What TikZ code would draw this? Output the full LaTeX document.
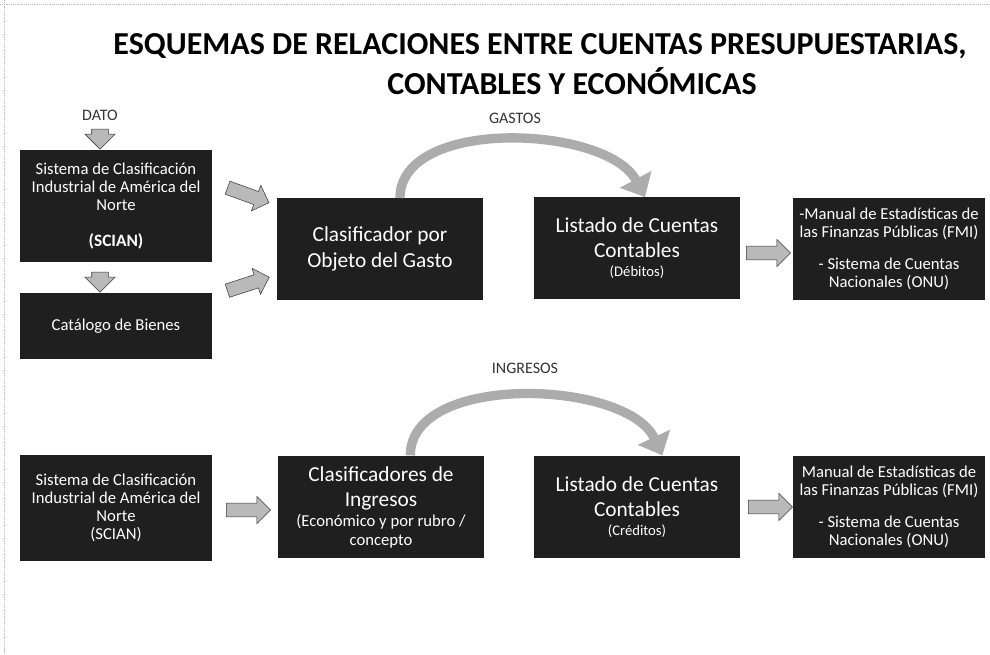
\documentclass[tikz,border=0pt]{standalone}
\usepackage{fontspec}
\setmainfont{Carlito}
\usetikzlibrary{shapes.arrows,arrows.meta}
\newcommand{\bigtxt}{\fontsize{16}{19}\selectfont}
\newcommand{\smalltxt}{\fontsize{11}{13}\selectfont}
\newcommand{\midtxt}{\fontsize{12.5}{13.5}\selectfont}
\begin{document}
\begin{tikzpicture}[x=0.75pt,y=-0.75pt,
	box/.style={rectangle,fill=black!88,text=white,align=center,inner sep=2pt,
		minimum width=144pt,minimum height=76pt,font=\midtxt},
	widebox/.style={box,minimum width=154pt,font=\bigtxt},
	tag/.style={font=\fontsize{12}{14}\selectfont,text=black!80},
	block/.style={single arrow,fill=gray!55,draw=gray!45!black,line width=0.4pt,
		inner xsep=0pt,inner ysep=5pt,minimum height=33pt,single arrow head extend=5pt},
	smallblock/.style={block,inner ysep=6pt,minimum height=15pt},
	curve/.style={draw=gray!65,line width=7pt,-{Triangle[length=15pt,width=26pt]}}
]
\useasboundingbox (0,0) rectangle (990,655);
\draw[gray!55,densely dotted] (0,4) -- (990,4);
\draw[gray!55,densely dotted] (4,0) -- (4,655);

\node[font=\bfseries\fontsize{24}{28}\selectfont] (titulo1) at (540,46) {ESQUEMAS DE RELACIONES ENTRE CUENTAS PRESUPUESTARIAS,};
\node[font=\bfseries\fontsize{24}{28}\selectfont] (titulo2) at (572,81) {CONTABLES Y ECONÓMICAS};

\node[tag] (dato) at (100,115) {DATO};
\node[smallblock,rotate=-90] (a0) at (100,135) {};
\node[box,minimum height=84pt] (scian) at (116,206) {Sistema de Clasificación\\Industrial de América del\\Norte\\[14pt]{\bfseries\fontsize{13}{14}\selectfont (SCIAN)}};
\node[smallblock,rotate=-90] (a1) at (100,278) {};
\node[box,minimum height=50pt] (catalogo) at (116,326) {Catálogo de Bienes};
\node[block,rotate=-20] (a2) at (245,194) {};
\node[block,rotate=18] (a3) at (245,285) {};
\node[widebox] (gasto) at (380,249) {Clasificador por\\Objeto del Gasto};
\node[tag] (gastos) at (515,118) {GASTOS};
\node[widebox] (listado) at (637,248) {Listado de Cuentas\\Contables\\[-5pt]{\smalltxt (Débitos)}};
\draw[curve] ([xshift=15pt]gasto.north) to[out=90,in=118,looseness=0.85] ([xshift=6pt]listado.north);
\node[block] (a4) at (765,253) {};
\node[box] (manual) at (889,249) {-Manual de Estadísticas de\\las Finanzas Públicas (FMI)\\[10pt]- Sistema de Cuentas\\Nacionales (ONU)};

\node[tag] (ingresos) at (525,368) {INGRESOS};
\node[box,minimum height=79pt] (scian2) at (116,508) {Sistema de Clasificación\\Industrial de América del\\Norte\\(SCIAN)};
\node[block] (a5) at (245,510) {};
\node[widebox,minimum height=77pt] (clasif) at (381,507) {Clasificadores de\\Ingresos\\[-4pt]{\midtxt (Económico y por rubro /}\\[-5pt]{\midtxt concepto}};
\node[widebox,minimum height=77pt] (listado2) at (637,507) {Listado de Cuentas\\Contables\\[-5pt]{\smalltxt (Créditos)}};
\draw[curve] ([xshift=22pt]clasif.north) to[out=90,in=115,looseness=0.85] ([xshift=19pt]listado2.north);
\node[block] (a6) at (767,507) {};
\node[box,minimum height=77pt] (manual2) at (889,507) {Manual de Estadísticas de\\las Finanzas Públicas (FMI)\\[10pt]- Sistema de Cuentas\\Nacionales (ONU)};
\end{tikzpicture}
\end{document}
